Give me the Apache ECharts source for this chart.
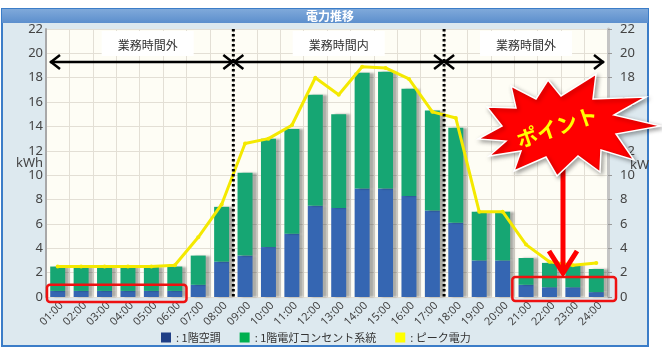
<!DOCTYPE html>
<html>
<head>
<meta charset="utf-8">
<script src="https://cdn.jsdelivr.net/npm/echarts@6/dist/echarts.min.js"></script>
<style>
  html, body { margin: 0; padding: 0; background: #ffffff; }
  #chart { width: 662px; height: 350px; }
</style>
</head>
<body>
<div id="chart"></div>
<script>
// Hourly categories
const hours = ['01:00','02:00','03:00','04:00','05:00','06:00','07:00','08:00',
               '09:00','10:00','11:00','12:00','13:00','14:00','15:00','16:00',
               '17:00','18:00','19:00','20:00','21:00','22:00','23:00','24:00'];

// 1F air conditioning (kWh)
const aircon = [0.5, 0.5, 0.5, 0.5, 0.5, 0.5, 1.0, 2.9,
                3.4, 4.1, 5.2, 7.5, 7.3, 8.9, 8.9, 8.3,
                7.1, 6.1, 3.0, 3.0, 1.0, 0.8, 0.8, 0.4];

// 1F lighting / outlet circuits (kWh)
const lighting = [2.0, 2.0, 2.0, 2.0, 2.0, 2.0, 2.4, 4.5,
                  6.8, 8.9, 8.6, 9.1, 7.7, 9.5, 9.6, 8.8,
                  8.2, 7.8, 4.0, 4.0, 2.2, 2.0, 1.8, 1.9];

// Peak demand (kW)
const peak = [2.5, 2.5, 2.5, 2.5, 2.5, 2.6, 4.9, 7.6,
              12.6, 13.0, 14.1, 18.0, 16.6, 18.9, 18.8, 17.9,
              15.2, 14.7, 7.0, 7.0, 4.3, 2.9, 2.6, 2.8];

// Shared axis range for kWh / kW
const axisMin = 0, axisMax = 22, axisStep = 2;

// Legend labels
const legendNames = ['1階空調', '1階電灯コンセント系統', 'ピーク電力'];

// Time-band labels
const bandLabels = ['業務時間外', '業務時間内', '業務時間外'];
const pointLabel = 'ポイント';

const numFont = '"Noto Sans", "DejaVu Sans", sans-serif';
const jpFont = '"Noto Sans CJK JP", "Noto Sans", sans-serif';

const chart = echarts.init(document.getElementById('chart'), null, { renderer: 'canvas' });

const barShadow = { shadowColor: 'rgba(0,0,0,0.32)', shadowOffsetX: 4, shadowOffsetY: 0, shadowBlur: 2 };

chart.setOption({
  animation: false,
  grid: { left: 46, right: 54, top: 29, bottom: 53, show: true, backgroundColor: '#fefdf5', borderWidth: 0 },
  legend: {
    left: 156, top: 327,
    icon: 'rect', itemWidth: 10, itemHeight: 10, itemGap: 19,
    textStyle: { fontSize: 11, color: '#333', fontFamily: jpFont },
    formatter: n => ': ' + n,
    data: [
      { name: legendNames[0], itemStyle: { color: '#1f3f86' } },
      { name: legendNames[1], itemStyle: { color: '#00b050' } },
      { name: legendNames[2], itemStyle: { color: '#ffff00' } }
    ]
  },
  xAxis: {
    type: 'category', data: hours,
    axisLine: { show: false }, axisTick: { show: false },
    splitLine: { show: true, interval: 0, lineStyle: { color: '#e3dfd5', width: 1 } },
    axisLabel: { rotate: 45, interval: 0, fontSize: 11, color: '#444', margin: 3,
                 verticalAlign: 'top', fontFamily: numFont }
  },
  yAxis: [
    {
      type: 'value', min: axisMin, max: axisMax, interval: axisStep,
      axisLine: { show: true, lineStyle: { color: '#a8a8a8', width: 2 } },
      axisTick: { show: false },
      axisLabel: { margin: 3, fontSize: 13, color: '#444', fontFamily: numFont },
      splitLine: { lineStyle: { color: '#e3dfd5', width: 1 } }
    },
    {
      type: 'value', min: axisMin, max: axisMax, interval: axisStep, position: 'right',
      axisLine: { show: true, lineStyle: { color: '#c4c4c4', width: 3 } },
      axisTick: { show: true, length: 4, lineStyle: { color: '#9a9a9a' } },
      axisLabel: { margin: 12, fontSize: 13, color: '#444', fontFamily: numFont },
      splitLine: { show: false }
    }
  ],
  series: [
    { name: legendNames[0], type: 'bar', stack: 'floor1', data: aircon, barWidth: 15,
      itemStyle: Object.assign({ color: '#3566b2' }, barShadow) },
    { name: legendNames[1], type: 'bar', stack: 'floor1', data: lighting, barWidth: 15,
      itemStyle: Object.assign({ color: '#16a673' }, barShadow) },
    { name: legendNames[2], type: 'line', yAxisIndex: 1, data: peak, z: 5,
      symbol: 'circle', symbolSize: 4, showSymbol: true,
      lineStyle: { color: '#f4e900', width: 3 }, itemStyle: { color: '#f4e900' } }
  ]
});

// ---- overlay graphics derived from the axes ----
const xc = i => chart.convertToPixel({ xAxisIndex: 0 }, hours[i]);
const band = xc(1) - xc(0);
const edge = i => xc(i) - band / 2;          // left edge of category i
const yp = v => chart.convertToPixel({ yAxisIndex: 0 }, v);

const plotLeft = edge(0), plotRight = edge(23) + band;
const plotTop = yp(axisMax), plotBottom = yp(axisMin);
const workStart = edge(8), workEnd = edge(17);
const arrowY = 62;

function arrowLine(x1, x2) {
  const h = 7, w = 10;
  return [
    { type: 'line', shape: { x1: x1, y1: arrowY, x2: x2, y2: arrowY }, style: { stroke: '#000', lineWidth: 2.5 }, z: 100 },
    { type: 'polyline', shape: { points: [[x1 + w, arrowY - h], [x1 + 1, arrowY], [x1 + w, arrowY + h]] }, style: { stroke: '#000', lineWidth: 2.5, fill: null }, z: 100 },
    { type: 'polyline', shape: { points: [[x2 - w, arrowY - h], [x2 - 1, arrowY], [x2 - w, arrowY + h]] }, style: { stroke: '#000', lineWidth: 2.5, fill: null }, z: 100 }
  ];
}

function bandLabel(cx, text) {
  return [
    { type: 'rect', shape: { x: cx - 46, y: 31, width: 92, height: 25 }, style: { fill: '#ffffff' }, z: 90 },
    { type: 'text', x: cx, y: 45, style: { text: text, fill: '#333', font: '12px ' + jpFont, textAlign: 'center', textVerticalAlign: 'middle' }, z: 91 }
  ];
}

// starburst outline around the callout
const burst = [[478,139],[502,126],[487,107],[516,108],[511,86],[536,99],[548,80],[561,96],
               [596,74],[593,99],[646,97],[614,115],[661,126],[616,134],[634,160],[601,150],
               [600,172],[578,156],[557,176],[546,157],[514,171],[521,151],[489,156],[506,141]];

const graphics = [
  // outer panel and title bar
  { type: 'rect', shape: { x: 2, y: 9, width: 646, height: 337 }, style: { fill: '#dde9ef', stroke: '#3b7dc8', lineWidth: 2 }, z: -100 },
  { type: 'rect', shape: { x: 2, y: 9, width: 646, height: 14 },
    style: { fill: new echarts.graphic.LinearGradient(0, 0, 0, 1, [{ offset: 0, color: '#7fa9da' }, { offset: 1, color: '#5c8fcd' }]) }, z: -99 },
  { type: 'text', x: 330, y: 16, style: { text: '電力推移', fill: '#ffffff', font: 'bold 12px ' + jpFont, textAlign: 'center', textVerticalAlign: 'middle' }, z: -98 },
  // axis units
  { type: 'text', x: 16, y: 163, style: { text: 'kWh', fill: '#444', font: '13px ' + numFont, textVerticalAlign: 'middle' }, z: 50 },
  { type: 'text', x: 630, y: 165, style: { text: 'kW', fill: '#444', font: '13px ' + numFont, textVerticalAlign: 'middle' }, z: 50 },
  // business-hours dividers
  { type: 'line', shape: { x1: workStart, y1: plotTop, x2: workStart, y2: plotBottom }, style: { stroke: '#000', lineWidth: 3, lineDash: [2.5, 2.5] }, z: 95 },
  { type: 'line', shape: { x1: workEnd, y1: plotTop, x2: workEnd, y2: plotBottom }, style: { stroke: '#000', lineWidth: 3, lineDash: [2.5, 2.5] }, z: 95 },
  // low-load night windows
  { type: 'rect', shape: { x: plotLeft + 1, y: yp(1.0), width: edge(6) - plotLeft - 1, height: plotBottom - yp(1.0) + 5, r: 3 },
    style: { fill: null, stroke: '#ee1111', lineWidth: 2.5 }, z: 100 },
  { type: 'rect', shape: { x: edge(20) - 2, y: yp(1.65), width: plotRight - edge(20) + 10, height: plotBottom - yp(1.65) + 4, r: 3 },
    style: { fill: null, stroke: '#ee1111', lineWidth: 2.5 }, z: 100 },
  // callout
  { type: 'line', shape: { x1: 563, y1: 160, x2: 563, y2: 272 }, style: { stroke: '#ff0000', lineWidth: 5 }, z: 101 },
  { type: 'polyline', shape: { points: [[549, 251], [563, 273], [577, 251]] }, style: { stroke: '#ff0000', lineWidth: 5, fill: null, lineJoin: 'miter' }, z: 101 },
  { type: 'polygon', shape: { points: burst }, style: { fill: '#ff0000', stroke: '#ffffff', lineWidth: 1.5, shadowColor: 'rgba(0,0,0,0.35)', shadowBlur: 4, shadowOffsetX: 2, shadowOffsetY: 2 }, z: 102 },
  { type: 'text', x: 557, y: 127, rotation: 0.33,
    style: { text: pointLabel, fill: '#ffff00', font: 'bold 21px ' + jpFont, textAlign: 'center', textVerticalAlign: 'middle' }, z: 103 }
]
  .concat(arrowLine(plotLeft + 4, workStart))
  .concat(arrowLine(workStart, workEnd))
  .concat(arrowLine(workEnd, plotRight - 4))
  .concat(bandLabel((plotLeft + workStart) / 2 + 8, bandLabels[0]))
  .concat(bandLabel((workStart + workEnd) / 2, bandLabels[1]))
  .concat(bandLabel((workEnd + plotRight) / 2, bandLabels[2]));

chart.setOption({ graphic: { elements: graphics } });
</script>
</body>
</html>
